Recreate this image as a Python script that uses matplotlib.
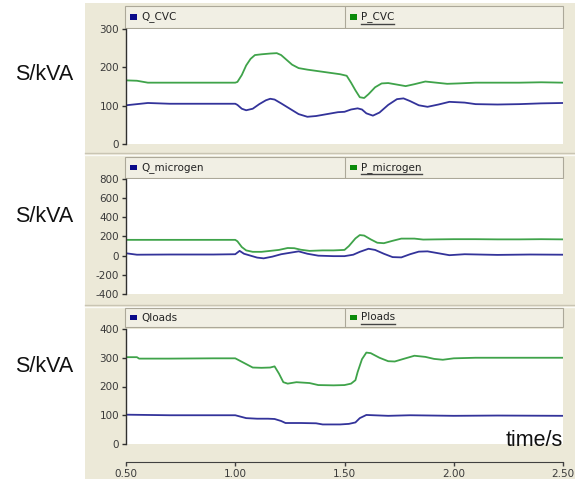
import matplotlib
matplotlib.use("Agg")
import matplotlib.pyplot as plt
from matplotlib.patches import Rectangle
from matplotlib.lines import Line2D

# ---------------- data ----------------
t_p_cvc = [0.50, 0.55, 0.60, 0.70, 0.80, 0.90, 1.00, 1.01, 1.03, 1.05, 1.07, 1.09, 1.12, 1.16, 1.19,
           1.21, 1.23, 1.26, 1.29, 1.33, 1.38, 1.43, 1.48, 1.51, 1.53, 1.55, 1.57, 1.59, 1.61, 1.64,
           1.67, 1.70, 1.74, 1.78, 1.82, 1.87, 1.92, 1.97, 2.02, 2.10, 2.20, 2.30, 2.40, 2.50]
p_cvc = [166, 165, 160, 160, 160, 160, 160, 162, 180, 205, 222, 232, 234, 236, 237,
         232, 222, 207, 198, 194, 190, 186, 182, 178, 160, 140, 122, 120, 130, 148,
         158, 159, 155, 151, 156, 163, 160, 157, 158, 160, 160, 160, 161, 160]

t_q_cvc = [0.50, 0.55, 0.60, 0.70, 0.80, 0.90, 1.00, 1.01, 1.03, 1.05, 1.08, 1.11, 1.14, 1.16, 1.18,
           1.21, 1.25, 1.29, 1.33, 1.37, 1.42, 1.47, 1.50, 1.53, 1.56, 1.58, 1.60, 1.63, 1.66, 1.70,
           1.74, 1.77, 1.80, 1.84, 1.88, 1.93, 1.98, 2.05, 2.10, 2.20, 2.30, 2.40, 2.50]
q_cvc = [101, 104, 107, 105, 105, 105, 105, 102, 92, 88, 92, 104, 114, 118, 116,
         106, 92, 78, 71, 73, 78, 83, 84, 90, 93, 90, 80, 74, 82, 102,
         117, 119, 112, 101, 97, 103, 110, 108, 104, 103, 104, 106, 107]

t_p_mg = [0.50, 0.60, 0.80, 1.00, 1.01, 1.03, 1.05, 1.08, 1.12, 1.16, 1.20, 1.24, 1.27, 1.30, 1.34,
          1.40, 1.45, 1.50, 1.52, 1.55, 1.57, 1.59, 1.62, 1.65, 1.68, 1.72, 1.76, 1.82, 1.86, 1.92,
          2.00, 2.10, 2.20, 2.30, 2.40, 2.50]
p_mg = [165, 165, 165, 165, 150, 90, 55, 40, 40, 50, 60, 80, 78, 62, 50,
        55, 55, 60, 100, 180, 215, 210, 170, 135, 130, 155, 178, 178, 168, 170,
        172, 172, 170, 170, 172, 170]

t_q_mg = [0.50, 0.55, 0.70, 0.90, 1.00, 1.02, 1.04, 1.07, 1.10, 1.13, 1.17, 1.21, 1.25, 1.29, 1.33,
          1.38, 1.45, 1.50, 1.54, 1.57, 1.61, 1.64, 1.68, 1.72, 1.76, 1.80, 1.84, 1.88, 1.93, 1.98,
          2.05, 2.20, 2.35, 2.50]
q_mg = [25, 10, 12, 12, 15, 50, 20, 0, -20, -28, -10, 15, 30, 45, 20,
        0, -5, -5, 10, 40, 72, 60, 20, -15, -18, 15, 42, 45, 25, 5,
        15, 8, 12, 10]

t_p_load = [0.50, 0.55, 0.56, 0.70, 0.90, 1.00, 1.02, 1.05, 1.08, 1.12, 1.16, 1.18, 1.20, 1.22, 1.24,
            1.28, 1.34, 1.38, 1.45, 1.50, 1.53, 1.55, 1.56, 1.58, 1.60, 1.62, 1.66, 1.70, 1.73, 1.77,
            1.82, 1.87, 1.91, 1.95, 2.00, 2.10, 2.20, 2.30, 2.40, 2.50]
p_load = [302, 302, 297, 297, 298, 298, 290, 278, 266, 265, 266, 270, 245, 215, 210,
          215, 212, 205, 204, 205, 210, 222, 250, 295, 318, 316, 300, 288, 287, 296,
          307, 303, 296, 293, 298, 300, 300, 300, 300, 300]

t_q_load = [0.50, 0.70, 0.90, 1.00, 1.02, 1.05, 1.10, 1.15, 1.18, 1.21, 1.23, 1.30, 1.37, 1.40, 1.48,
            1.52, 1.55, 1.57, 1.60, 1.70, 1.80, 2.00, 2.20, 2.50]
q_load = [102, 100, 100, 100, 96, 90, 88, 88, 87, 80, 73, 73, 72, 68, 68,
          70, 75, 90, 101, 98, 100, 98, 99, 98]

x_ticks = [0.5, 1.0, 1.5, 2.0, 2.5]
x_ticklabels = ["0.50", "1.00", "1.50", "2.00", "2.50"]

panels = [
    dict(q=(t_q_cvc, q_cvc), p=(t_p_cvc, p_cvc), qname="Q_CVC", pname="P_CVC",
         ylim=(0, 300), yticks=[0, 100, 200, 300]),
    dict(q=(t_q_mg, q_mg), p=(t_p_mg, p_mg), qname="Q_microgen", pname="P_microgen",
         ylim=(-400, 800), yticks=[-400, -200, 0, 200, 400, 600, 800]),
    dict(q=(t_q_load, q_load), p=(t_p_load, p_load), qname="Qloads", pname="Ploads",
         ylim=(0, 400), yticks=[0, 100, 200, 300, 400]),
]

# ---------------- layout (pixels) ----------------
W, H = 575, 479
fig = plt.figure(figsize=(W / 100, H / 100), dpi=100)
fig.patch.set_facecolor("white")

def fx(x):
    return x / W

def fy(y):
    return 1 - y / H

GRAY = "#ECE9D8"
HEAD = "#F1EFE4"
EDGE = "#ACA899"
BLUE_LINE = "#33339A"
GREEN_LINE = "#3FA34A"

fig.patches.append(Rectangle((fx(85), 0), fx(W - 85), fy(3), transform=fig.transFigure,
                             facecolor=GRAY, edgecolor="none", zorder=-5))

plot_top = [29, 179, 329]
plot_h = 115
head_rows = [(6, 28), (157, 178), (308, 327)]
sep_rows = [153, 305]
ylab_y = [74, 217, 367]

for y in sep_rows:
    fig.add_artist(Line2D([fx(85), fx(575)], [fy(y), fy(y)], transform=fig.transFigure,
                          color="#C9C5B3", lw=1.0, zorder=-4))
    fig.add_artist(Line2D([fx(85), fx(575)], [fy(y + 1.5), fy(y + 1.5)], transform=fig.transFigure,
                          color="#FAFAF6", lw=1.0, zorder=-4))

x0, x1 = 126, 563
text_items = []
for i, pn in enumerate(panels):
    top = plot_top[i]
    ax = fig.add_axes([fx(x0), fy(top + plot_h), fx(x1 - x0), plot_h / H])
    ax.set_zorder(1)
    ax.set_facecolor("white")
    ax.plot(pn["p"][0], pn["p"][1], color=GREEN_LINE, lw=1.3)
    ax.plot(pn["q"][0], pn["q"][1], color=BLUE_LINE, lw=1.3)
    ax.set_xlim(0.5, 2.5)
    ax.set_ylim(*pn["ylim"])
    ax.set_yticks(pn["yticks"])
    ax.set_yticklabels([str(v) for v in pn["yticks"]])
    for s in ["top", "right", "bottom"]:
        ax.spines[s].set_visible(False)
    ax.spines["left"].set_color("#303030")
    ax.spines["left"].set_linewidth(1.0)
    ax.tick_params(axis="y", direction="out", length=3, width=1, color="#303030",
                   labelsize=7.5, labelcolor="#3A3A3A", pad=2)
    if i < 2:
        ax.set_xticks([])
    else:
        ax.spines["bottom"].set_visible(True)
        ax.spines["bottom"].set_position(("outward", 13))
        ax.spines["bottom"].set_color("#404040")
        ax.set_xticks(x_ticks)
        ax.set_xticklabels(x_ticklabels)
        ax.tick_params(axis="x", direction="out", length=3, width=1, color="#404040",
                       labelsize=7.5, labelcolor="#3A3A3A", pad=2)

    # header strip
    hy0, hy1 = head_rows[i]
    fig.patches.append(Rectangle((fx(125), fy(hy1)), fx(x1 - 125), (hy1 - hy0) / H,
                                 transform=fig.transFigure, facecolor=HEAD,
                                 edgecolor=EDGE, lw=0.8, zorder=-3))
    fig.add_artist(Line2D([fx(345), fx(345)], [fy(hy0 + 1), fy(hy1 - 1)], transform=fig.transFigure,
                          color=EDGE, lw=0.8, zorder=-2))
    ym = (hy0 + hy1) / 2
    fig.patches.append(Rectangle((fx(130), fy(ym + 2.5)), fx(7), 5 / H, transform=fig.transFigure,
                                 facecolor="#0A0A8A", edgecolor="none", zorder=3))
    fig.text(fx(141), fy(ym), pn["qname"], fontsize=7.5, color="#222222",
             va="center", ha="left", zorder=3)
    fig.patches.append(Rectangle((fx(350), fy(ym + 2.5)), fx(7), 5 / H, transform=fig.transFigure,
                                 facecolor="#0A8A0A", edgecolor="none", zorder=3))
    tp = fig.text(fx(361), fy(ym), pn["pname"], fontsize=7.5, color="#222222",
                  va="center", ha="left", zorder=3)
    text_items.append((tp, ym))

    fig.text(fx(15), fy(ylab_y[i]), "S/kVA", fontsize=15.5, family="Liberation Sans",
             va="center", ha="left", color="#111111")

fig.text(fx(563), fy(441), "time/s", fontsize=15.5, family="Liberation Sans",
         va="center", ha="right", color="#111111", zorder=5)

# underline legend text of the second entries
fig.canvas.draw()
r = fig.canvas.get_renderer()
for tp, ym in text_items:
    bb = tp.get_window_extent(r)
    fig.add_artist(Line2D([bb.x0 / W, bb.x1 / W], [fy(ym + 6.5), fy(ym + 6.5)],
                          transform=fig.transFigure, color="#444444", lw=1.0, zorder=3))

fig.savefig("out.png", dpi=100)
